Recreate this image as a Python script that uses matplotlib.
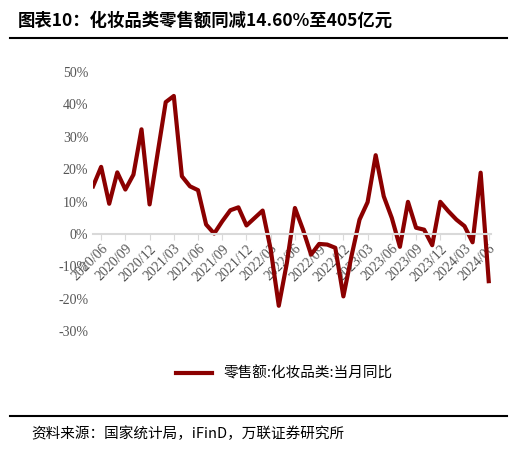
import matplotlib
matplotlib.use("Agg")
import matplotlib.pyplot as plt
import numpy as np

plt.rcParams['font.family'] = ['Noto Sans CJK SC', 'DejaVu Sans']

months = [f"{y}/{m:02d}" for y in range(2020, 2025) for m in range(1, 13)]
months = months[months.index("2020/05"):months.index("2024/06") + 1]
values = [14.7, 20.7, 9.3, 19, 13.7, 18.3, 32.3, 9.1, 25, 40.7, 42.6, 17.8, 14.7, 13.5,
          2.9, 0.1, 3.9, 7.3, 8.2, 2.6, 4.9, 7.2, -4.8, -22.2, -9, 8, 1.3, -6.4, -3.1,
          -3.3, -4.3, -19.3, -6.9, 4.4, 9.8, 24.3, 11.6, 4.9, -4, 9.9, 1.9, 1.3, -3.5,
          9.9, 7, 4.4, 2.4, -2.6, 18.9, -14.6]
yticks = [-30, -20, -10, 0, 10, 20, 30, 40, 50]
label = "零售额:化妆品类:当月同比"

fig = plt.figure(figsize=(5.17, 4.5), dpi=100)
fig.text(0.035, 0.955, "图表10：化妆品类零售额同减14.60%至405亿元", fontsize=12.5,
         fontweight='bold', va='center')
fig.add_artist(plt.Line2D([0.02, 0.98], [0.915, 0.915], color='black', lw=1.5))
fig.add_artist(plt.Line2D([0.02, 0.98], [0.075, 0.075], color='black', lw=1.5))
fig.text(0.06, 0.035, "资料来源：国家统计局，iFinD，万联证券研究所", fontsize=10.5,
         style='italic', va='center')

ax = fig.add_axes([0.18, 0.25, 0.77, 0.59])
x = np.arange(len(values))
line, = ax.plot(x, values, color='#8B0000', lw=3, label=label)
for s in ax.spines.values():
    s.set_visible(False)
ax.spines['bottom'].set_visible(True)
ax.spines['bottom'].set_position(('data', 0))
ax.spines['bottom'].set_color('#d9d9d9')
ax.spines['bottom'].set_linewidth(1.5)
ax.set_xlim(0, len(values) - 1 + 0.3)
ax.set_ylim(-32, 50)
ax.set_yticks(yticks)
ax.set_yticklabels([f"{t}%" for t in yticks], color='#555555', fontsize=10,
                   family=['Liberation Serif', 'DejaVu Serif'])
ax.tick_params(axis='y', length=0)
tick_idx = list(range(1, len(values), 3))
ax.set_xticks(tick_idx)
ax.set_xticklabels([months[i] for i in tick_idx], rotation=45, ha='right',
                   rotation_mode='anchor', color='#555555', fontsize=10,
                   family=['Liberation Serif', 'DejaVu Serif'])
ax.tick_params(axis='x', length=4, color='#d9d9d9', pad=2)
fig.legend(handles=[line], loc='center', bbox_to_anchor=(0.55, 0.17), frameon=False,
           fontsize=10.5, handlelength=2.5)
fig.savefig("out.png", dpi=100)
